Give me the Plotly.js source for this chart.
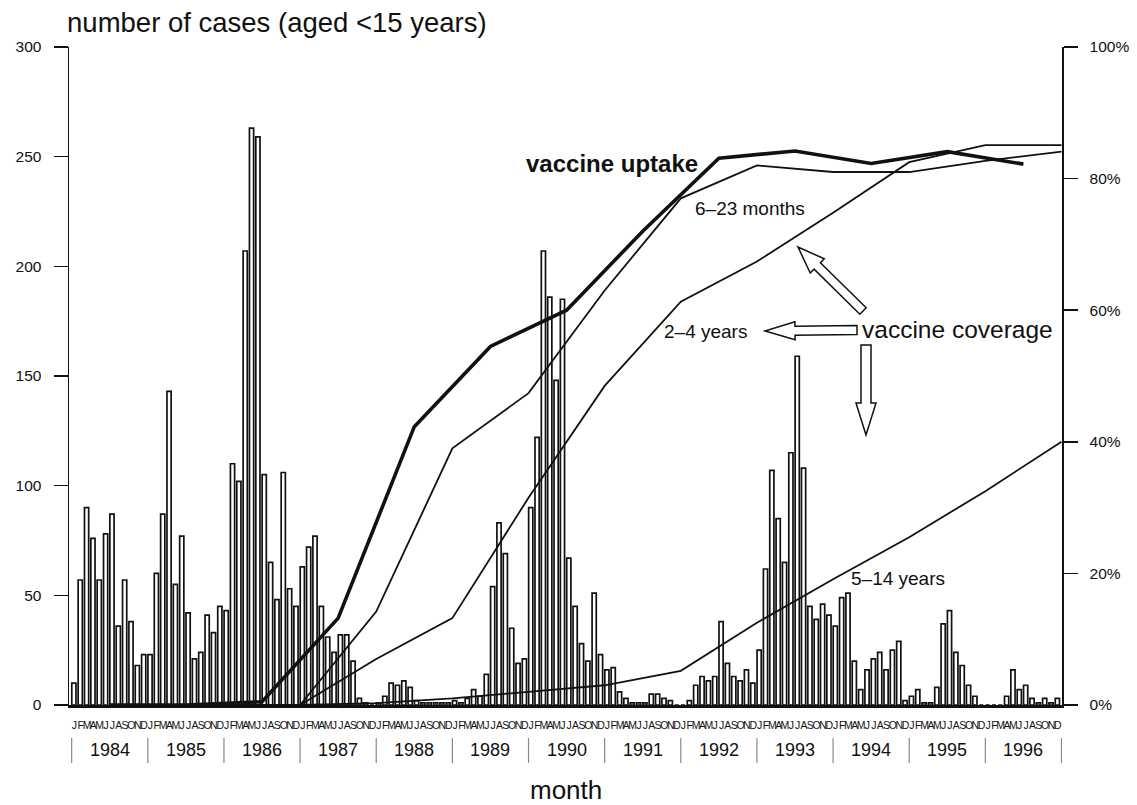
<!DOCTYPE html>
<html>
<head>
<meta charset="utf-8">
<script src="https://cdn.plot.ly/plotly-3.0.1.min.js"></script>
<style>html,body{margin:0;padding:0;background:#fff;}</style>
</head>
<body>
<div id="chart" style="width:1137px;height:805px;"></div>
<script>
// ---- data ----
const years = [1984, 1985, 1986, 1987, 1988, 1989, 1990, 1991, 1992, 1993, 1994, 1995, 1996];
const monthLetters = ["J","F","M","A","M","J","J","A","S","O","N","D"];
const cases1984 = [10, 57, 90, 76, 57, 78, 87, 36, 57, 38, 18, 23];
const cases1985 = [23, 60, 87, 143, 55, 77, 42, 21, 24, 41, 33, 45];
const cases1986 = [43, 110, 102, 207, 263, 259, 105, 65, 48, 106, 53, 45];
const cases1987 = [63, 72, 77, 45, 31, 24, 32, 32, 20, 3, 1, 0];
const cases1988 = [1, 4, 10, 9, 11, 8, 2, 1, 1, 1, 1, 1];
const cases1989 = [2, 1, 3, 7, 4, 14, 54, 83, 69, 35, 19, 21];
const cases1990 = [90, 122, 207, 186, 148, 185, 67, 45, 28, 20, 51, 23];
const cases1991 = [16, 17, 6, 3, 1, 1, 1, 5, 5, 3, 2, 0];
const cases1992 = [0, 2, 9, 13, 11, 13, 38, 19, 13, 11, 16, 10];
const cases1993 = [25, 62, 107, 85, 65, 115, 159, 108, 45, 39, 46, 41];
const cases1994 = [36, 49, 51, 20, 7, 16, 21, 24, 16, 25, 29, 2];
const cases1995 = [4, 7, 1, 1, 8, 37, 43, 24, 18, 9, 4, 0];
const cases1996 = [0, 0, 0, 4, 16, 7, 9, 3, 1, 3, 1, 3];

// vaccine uptake (%), mid-year values
const uptake = [0, 0, 0.5, 13.2, 42.3, 54.5, 60.0, 72.0, 83.1, 84.2, 82.3, 84.1, 82.2];
// vaccine coverage (%), end-of-year values
const cov6to23m = [0, 0, 0, 14.2, 39.0, 47.4, 63.0, 77.0, 82.0, 81.0, 81.0, 82.7, 84.1];
const cov2to4y = [0, 0, 0, 7.0, 13.2, 31.5, 48.5, 61.3, 67.4, 74.8, 82.5, 85.1, 85.1];
const cov5to14y = [0, 0, 0, 0.3, 1.0, 2.0, 3.0, 5.2, 12.5, 19.1, 25.5, 32.5, 40.0];

const leftTicks = [0, 50, 100, 150, 200, 250, 300];
const rightTicks = [0, 20, 40, 60, 80, 100];
const rightTickText = ["0%", "20%", "40%", "60%", "80%", "100%"];

// ---- build ----
const monthlyCases = [].concat(cases1984, cases1985, cases1986, cases1987, cases1988, cases1989,
  cases1990, cases1991, cases1992, cases1993, cases1994, cases1995, cases1996);
const monthIdx = monthlyCases.map((_, i) => i);
const barX = monthIdx.map(i => i + 0.35);
const tickVals = monthIdx.map(i => i + 0.42);
const tickText = monthIdx.map(i => monthLetters[i % 12]);
const midYearX = years.map(y => (y - years[0]) * 12 + 6);
const endYearX = years.map(y => (y - years[0]) * 12 + 12);

// pixel helpers for decorations (plot area: x 69..1062, y 47..705)
const X0 = -0.42, X1 = 156.08, PL = 69, PR = 1062, PT = 47, PB = 705;
const px2x = p => X0 + (p - PL) * (X1 - X0) / (PR - PL);
const px2y = p => (PB - p) * 300 / (PB - PT);

function blockArrow(tx, ty, hx, hy, w, hw, hl) {
  const dx = hx - tx, dy = hy - ty, L = Math.hypot(dx, dy);
  const ux = dx / L, uy = dy / L, nx = -uy, ny = ux;
  const nkx = hx - ux * hl, nky = hy - uy * hl;
  const pts = [
    [tx + nx * w, ty + ny * w], [nkx + nx * w, nky + ny * w], [nkx + nx * hw, nky + ny * hw],
    [hx, hy], [nkx - nx * hw, nky - ny * hw], [nkx - nx * w, nky - ny * w], [tx - nx * w, ty - ny * w]
  ];
  return 'M' + pts.map(p => px2x(p[0]).toFixed(3) + ',' + px2y(p[1]).toFixed(3)).join(' L') + ' Z';
}

const FONT = 'Liberation Sans, Arial, Helvetica, sans-serif';
const lineBlack = '#111';

const traces = [
  { type: 'bar', x: barX, y: monthlyCases, width: 0.66,
    marker: { color: 'white', line: { color: lineBlack, width: 1.7 } }, hoverinfo: 'skip' },
  { type: 'scatter', mode: 'lines', x: endYearX, y: cov5to14y, yaxis: 'y2',
    line: { color: lineBlack, width: 1.8 }, hoverinfo: 'skip' },
  { type: 'scatter', mode: 'lines', x: endYearX, y: cov2to4y, yaxis: 'y2',
    line: { color: lineBlack, width: 1.8 }, hoverinfo: 'skip' },
  { type: 'scatter', mode: 'lines', x: endYearX, y: cov6to23m, yaxis: 'y2',
    line: { color: lineBlack, width: 1.8 }, hoverinfo: 'skip' },
  { type: 'scatter', mode: 'lines', x: midYearX, y: uptake, yaxis: 'y2',
    line: { color: lineBlack, width: 3.6 }, hoverinfo: 'skip' }
];

const shapes = [];
for (let k = 0; k <= years.length; k++) {
  shapes.push({ type: 'line', xref: 'x', yref: 'paper', x0: k * 12, x1: k * 12,
    y0: -0.05, y1: -0.088, line: { color: '#888', width: 1.2 } });
}
const arrowStyle = { fillcolor: 'white', line: { color: lineBlack, width: 1.5 } };
shapes.push(Object.assign({ type: 'path', xref: 'x', yref: 'y', path: blockArrow(863, 311, 798, 247, 4.5, 10, 27) }, arrowStyle));
shapes.push(Object.assign({ type: 'path', xref: 'x', yref: 'y', path: blockArrow(857, 330, 765, 331, 4.5, 9, 30) }, arrowStyle));
shapes.push(Object.assign({ type: 'path', xref: 'x', yref: 'y', path: blockArrow(866, 345, 866, 435, 5, 10, 32) }, arrowStyle));

const annotations = years.map((y, k) => ({
  text: String(y), xref: 'x', yref: 'paper', x: k * 12 + 6, y: -0.069,
  showarrow: false, font: { family: FONT, size: 18, color: '#111' }, xanchor: 'center', yanchor: 'middle'
}));
const labelFont = s => ({ family: FONT, size: s, color: '#111' });
annotations.push(
  { text: 'month', xref: 'paper', yref: 'paper', x: 0.5, y: -0.129, showarrow: false,
    font: labelFont(26), xanchor: 'center', yanchor: 'middle' },
  { text: '<b>vaccine uptake</b>', xref: 'x', yref: 'y', x: px2x(700), y: px2y(163), showarrow: false,
    font: labelFont(24), xanchor: 'right', yanchor: 'middle' },
  { text: '6–23 months', xref: 'x', yref: 'y', x: px2x(693), y: px2y(208), showarrow: false,
    font: labelFont(19), xanchor: 'left', yanchor: 'middle' },
  { text: '2–4 years', xref: 'x', yref: 'y', x: px2x(662), y: px2y(331), showarrow: false,
    font: labelFont(19), xanchor: 'left', yanchor: 'middle' },
  { text: 'vaccine coverage', xref: 'x', yref: 'y', x: px2x(860), y: px2y(329), showarrow: false,
    font: labelFont(24.5), xanchor: 'left', yanchor: 'middle' },
  { text: '5–14 years', xref: 'x', yref: 'y', x: px2x(849), y: px2y(578), showarrow: false,
    font: labelFont(19), xanchor: 'left', yanchor: 'middle' }
);

const layout = {
  width: 1137, height: 805,
  margin: { l: PL, r: 1137 - PR, t: PT, b: 805 - PB, pad: 0 },
  paper_bgcolor: 'white', plot_bgcolor: 'white',
  showlegend: false,
  font: { family: FONT, color: '#111' },
  title: { text: 'number of cases (aged <15 years)', font: { family: FONT, size: 27.5, color: '#111' },
    xref: 'container', x: 0.059, xanchor: 'left', yref: 'container', y: 0.972, yanchor: 'middle' },
  xaxis: { range: [X0, X1], tickmode: 'array', tickvals: tickVals, ticktext: tickText, tickangle: 0,
    ticks: '', showgrid: false, zeroline: false, showline: true, linecolor: lineBlack, linewidth: 2.5,
    tickfont: { family: 'Liberation Sans Narrow, Liberation Sans, Arial, sans-serif', size: 10.5, color: '#111' },
    ticklabelstandoff: 9, fixedrange: true },
  yaxis: { range: [0, 300], tickmode: 'array', tickvals: leftTicks,
    ticks: 'outside', ticklen: 14, tickwidth: 1.5, tickcolor: lineBlack,
    showline: true, linecolor: lineBlack, linewidth: 1.5, showgrid: false, zeroline: false,
    tickfont: { family: FONT, size: 15.5, color: '#111' }, ticklabelstandoff: 9, fixedrange: true },
  yaxis2: { range: [0, 100], overlaying: 'y', side: 'right', tickmode: 'array',
    tickvals: rightTicks, ticktext: rightTickText,
    ticks: 'outside', ticklen: 14, tickwidth: 1.5, tickcolor: lineBlack,
    showline: true, linecolor: lineBlack, linewidth: 1.5, showgrid: false, zeroline: false,
    tickfont: { family: FONT, size: 15.5, color: '#111' }, ticklabelstandoff: 9, fixedrange: true },
  bargap: 0,
  shapes: shapes,
  annotations: annotations
};

Plotly.newPlot('chart', traces, layout, { staticPlot: true, displayModeBar: false });
</script>
</body>
</html>
